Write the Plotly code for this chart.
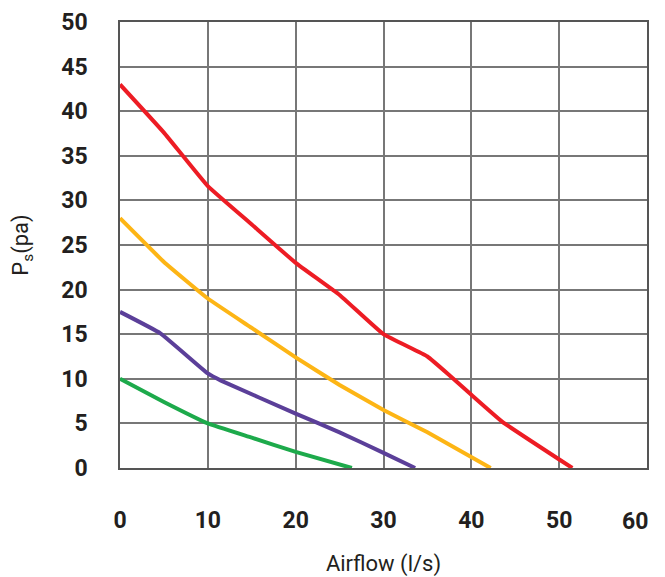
import plotly.graph_objects as go

x_ticks = [0, 10, 20, 30, 40, 50, 60]
y_ticks = [0, 5, 10, 15, 20, 25, 30, 35, 40, 45, 50]

red_x = [0, 5, 10, 15, 20, 25, 30, 35, 37.5, 40, 43.5, 51.5]
red_y = [43, 37.6, 31.6, 27.3, 23, 19.4, 15, 12.5, 10.4, 8.2, 5.2, 0]

orange_x = [0, 5, 10, 15, 20, 25, 30, 35, 42.2]
orange_y = [28, 23.1, 19, 15.7, 12.4, 9.3, 6.5, 4.0, 0]

purple_x = [0, 4.6, 10, 11.5, 20, 25, 30, 33.6]
purple_y = [17.5, 15.1, 10.6, 9.8, 6.1, 4.0, 1.7, 0]

green_x = [0, 5, 10, 15, 20, 26.4]
green_y = [10, 7.4, 5.0, 3.4, 1.8, 0]

series = [
    (red_x, red_y, "#ED1C24"),
    (orange_x, orange_y, "#FDB515"),
    (purple_x, purple_y, "#5B3F99"),
    (green_x, green_y, "#1DAA4B"),
]

fig = go.Figure()
for xs, ys, c in series:
    fig.add_trace(go.Scatter(x=xs, y=ys, mode="lines",
                             line=dict(color=c, width=4, shape="spline", smoothing=0.3),
                             showlegend=False))

tickfont = dict(family="Roboto", size=23, color="#231F20", weight=700)
titlefont = dict(family="Roboto", size=22, color="#231F20")

fig.update_layout(
    width=665, height=577,
    margin=dict(l=112, r=26, t=14, b=117),
    plot_bgcolor="white", paper_bgcolor="white",
    xaxis=dict(range=[x_ticks[0], x_ticks[-1]], tickvals=x_ticks[:-1],
               showgrid=True, automargin=False,
               gridcolor="#777777", gridwidth=1.5, zeroline=False,
               showline=True, linecolor="#555555", linewidth=1.5, mirror=True,
               tickfont=tickfont, ticklabelstandoff=31, ticks="",
               title=dict(text="Airflow (l/s)", standoff=22, font=titlefont)),
    yaxis=dict(range=[y_ticks[0], y_ticks[-1]], tickvals=y_ticks,
               showgrid=True, automargin=False,
               gridcolor="#777777", gridwidth=1.5, zeroline=False,
               showline=True, linecolor="#555555", linewidth=1.5, mirror=True,
               tickfont=tickfont, ticklabelstandoff=26, ticks="",
               title=dict(text="P<sub>s</sub>(pa)", standoff=30, font=titlefont)),
)

# last x tick label kept inside the page, right-aligned to the axis end
fig.add_annotation(x=x_ticks[-1], xref="x", y=0, yref="paper",
                   text=str(x_ticks[-1]), showarrow=False,
                   xanchor="right", yanchor="top", yshift=-38, xshift=3,
                   font=tickfont)

fig.write_html("out.html")
